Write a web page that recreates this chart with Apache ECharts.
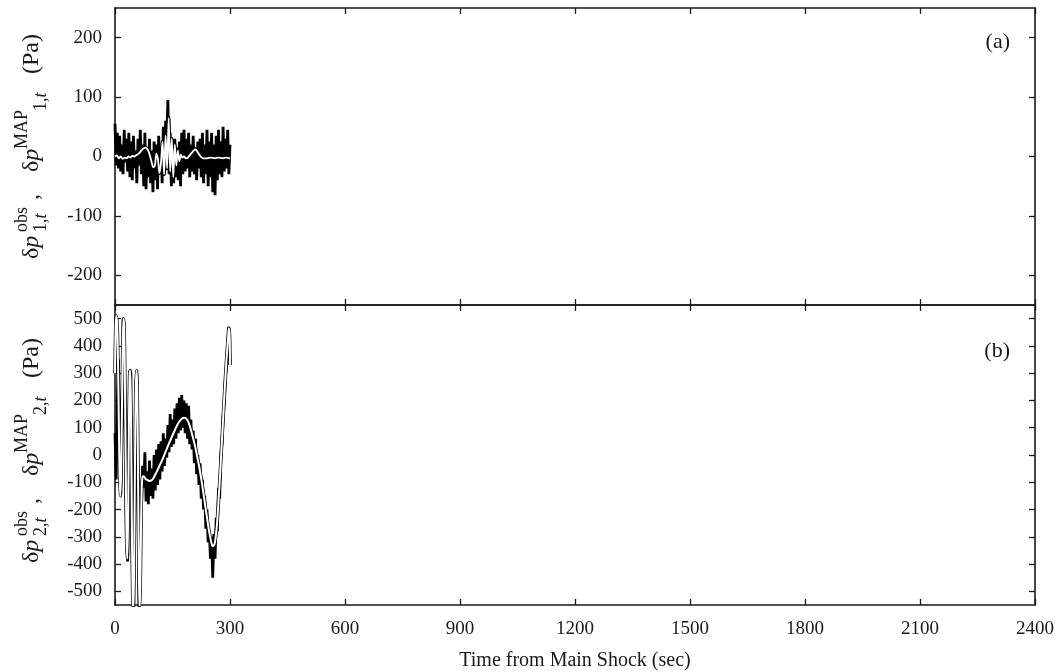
<!DOCTYPE html>
<html><head><meta charset="utf-8">
<script src="https://cdn.jsdelivr.net/npm/echarts@6/dist/echarts.min.js"></script>
<style>html,body{margin:0;padding:0;background:#fff}#c{width:1062px;height:672px}</style>
</head><body><div id="c"></div>
<script>
// ---------- data ----------
const xMin = 0, xMax = 2400, xStep = 300;
const yTicksA = [-200, -100, 0, 100, 200];
const yTicksB = [-500, -400, -300, -200, -100, 0, 100, 200, 300, 400, 500];

// panel (a) observed (sampled every 3 s from 0 to 300 s)
const obsA = [55,-15,40,-20,35,-25,20,-30,45,-10,
  30,-25,40,-35,25,-40,35,-20,10,-45,
  30,-15,45,-30,20,-50,40,-55,15,-35,
  30,-45,10,-60,25,-40,20,-55,35,-30,
  15,-45,50,-20,60,30,95,-30,40,-50,
  20,-45,30,-35,15,-40,25,-50,40,-30,
  45,-25,30,-20,40,-35,20,-25,35,-30,
  15,-40,25,-20,30,-35,40,-45,20,-30,
  45,-50,25,-35,40,-60,20,-65,35,-40,
  45,-30,25,-35,50,-25,30,-20,45,-30,20];
// panel (a) MAP estimate
const tMapA = [0,5,10,15,20,25,30,35,40,45,50,55,60,65,70,75,80,85,90,95,100,104,108,112,116,120,124,128,132,136,140,144,148,152,156,160,164,168,172,176,180,185,190,195,200,205,210,215,220,225,230,240,250,260,270,280,290,300];
const vMapA = [0,2,-3,0,-4,-2,-3,0,-2,1,0,2,4,7,11,14,15,12,4,-8,-18,-15,5,-5,-28,-10,25,-30,35,-20,65,-25,30,-35,20,-15,10,-8,3,-2,0,-3,-2,2,6,10,12,8,3,-1,-3,-3,-2,-3,-2,-3,-2,-3];

// panel (b) observed (sampled every 3 s from 0 to 300 s)
const obsB = [80,-90,200,350,-60,-120,120,420,350,100,-320,-390,60,310,120,-400,-560,-200,240,310,-60,-560,
  -150,-190,-40,-120,10,-170,-60,-180,-20,-150,-50,-160,0,-130,20,-110,40,-90,50,-60,80,-40,60,-10,
  110,10,150,30,130,40,170,60,190,80,210,90,220,100,200,80,190,60,180,40,130,20,90,-30,60,-70,0,-110,
  -30,-160,-90,-200,-150,-270,-200,-320,-280,-380,-300,-450,-290,-380,-230,-280,-120,-160,0,40,140,190,280,330,410,470,330];
// panel (b) MAP estimate
const tMapB = [0,2,4,6,8,10,12,14,16,18,20,22,24,26,28,30,32,34,36,38,40,42,44,46,48,50,52,54,56,58,60,62,64,66,68,70,72,
  75,80,85,90,95,100,105,110,115,120,125,130,135,140,145,150,155,160,165,170,175,180,185,190,195,200,205,210,215,220,225,230,235,240,245,250,255,260,265,270,275,280,285,290,295,297,299,300];
const vMapB = [300,480,510,470,330,120,-80,-150,-60,150,380,500,470,250,-50,-300,-380,-250,50,290,310,100,-250,-520,-570,-400,-50,230,310,250,-50,-400,-570,-480,-250,-110,-80,
  -78,-88,-92,-95,-93,-85,-72,-58,-43,-28,-12,5,22,40,56,72,88,103,116,127,134,137,135,125,107,82,55,25,-10,-45,-88,-133,-182,-230,-275,-312,-335,-325,-270,-170,-50,80,210,330,430,465,440,330];

// ---------- helpers ----------
const obsSpan = 300;
function evenPairs(vals) { const n = vals.length; return vals.map((v, i) => [i * obsSpan / (n - 1), v]); }
function zipPairs(ts, vs) { const n = Math.min(ts.length, vs.length); const o = []; for (let i = 0; i < n; i++) o.push([ts[i], vs[i]]); return o; }

const FONT = '"Liberation Serif", "Times New Roman", serif';
const INK = '#1a1a1a';
const L = 115, R = 27, TOP = 8, MID = 305, BOT = 605;

function xAx(grid, pos, labels) {
  return {
    type: 'value', gridIndex: grid, position: pos, min: xMin, max: xMax, interval: xStep,
    axisLine: { show: true, onZero: false, lineStyle: { color: INK, width: 1.6 } },
    axisTick: { show: true, inside: true, length: 6, lineStyle: { color: INK, width: 1.3 } },
    axisLabel: { show: labels, fontFamily: FONT, fontSize: 19, color: INK, margin: 15, formatter: v => String(v) },
    splitLine: { show: false },
    name: labels ? 'Time from Main Shock (sec)' : '', nameLocation: 'middle', nameGap: 46,
    nameTextStyle: { fontFamily: FONT, fontSize: 20, color: INK }
  };
}
function yAx(grid, pos, lim, ticks, labels) {
  return {
    type: 'value', gridIndex: grid, position: pos, min: -lim, max: lim,
    axisLine: { show: true, onZero: false, lineStyle: { color: INK, width: 1.6 } },
    axisTick: { show: true, inside: true, length: 6, customValues: ticks, lineStyle: { color: INK, width: 1.3 } },
    axisLabel: { show: labels, customValues: ticks, fontFamily: FONT, fontSize: 19, color: INK, margin: 13 },
    splitLine: { show: false }
  };
}

// rotated axis title built from pieces (local x runs up the page)
function yTitle(idx, cx, cy) {
  const big = 24, small = 18;
  const base = 0.22 * big, subDy = 0.36 * big + 0.22 * small, supDy = -0.45 * big + 0.22 * small;
  const kids = [];
  const put = (t, s, it, x, dy) => kids.push({ type: 'text', x: x, y: dy, style: { text: t, font: (it ? 'italic ' : '') + s + 'px ' + FONT, fill: INK, verticalAlign: 'bottom', textVerticalAlign: 'bottom' } });
  const c = document.createElement('canvas').getContext('2d');
  const w = (t, s, it) => { c.font = (it ? 'italic ' : '') + s + 'px ' + FONT; return c.measureText(t).width; };
  const sub = (x) => { put(String(idx), small, false, x, subDy); x += w(String(idx), small); put(',', small, false, x, subDy); x += w(',', small); put('t', small, true, x, subDy); };
  const dp = (x) => { put('δ', big, false, x, base); put('p', big, true, x + w('δ', big), base); };
  dp(-111);
  put('obs', small, false, -84, supDy); sub(-84);
  put(',', big, false, -52, base);
  dp(-24);
  put('MAP', small, false, -1, supDy);
  sub(37);
  put('(Pa)', big, false, 74, base);
  return { type: 'group', x: cx, y: cy, rotation: Math.PI / 2, children: kids };
}

const chart = echarts.init(document.getElementById('c'), null, { renderer: 'canvas' });
const option = {
  animation: false,
  backgroundColor: '#fff',
  grid: [
    { left: L, right: R, top: TOP, height: MID - TOP },
    { left: L, right: R, top: MID, height: BOT - MID }
  ],
  xAxis: [xAx(0, 'top', false), xAx(0, 'bottom', false), xAx(1, 'top', false), xAx(1, 'bottom', true)],
  yAxis: [yAx(0, 'left', 250, yTicksA, true), yAx(0, 'right', 250, yTicksA, false),
          yAx(1, 'left', 550, yTicksB, true), yAx(1, 'right', 550, yTicksB, false)],
  series: [
    { type: 'line', xAxisIndex: 1, yAxisIndex: 0, data: evenPairs(obsA), showSymbol: false, lineStyle: { color: '#000', width: 2.8 }, z: 2 },
    { type: 'line', xAxisIndex: 1, yAxisIndex: 0, data: zipPairs(tMapA, vMapA), showSymbol: false, smooth: 0.3, lineStyle: { color: '#000', width: 3.6 }, z: 3 },
    { type: 'line', xAxisIndex: 1, yAxisIndex: 0, data: zipPairs(tMapA, vMapA), showSymbol: false, smooth: 0.3, lineStyle: { color: '#fff', width: 1.8 }, z: 4 },
    { type: 'line', xAxisIndex: 3, yAxisIndex: 2, data: evenPairs(obsB), showSymbol: false, lineStyle: { color: '#000', width: 2.8 }, z: 2 },
    { type: 'line', xAxisIndex: 3, yAxisIndex: 2, data: zipPairs(tMapB, vMapB), showSymbol: false, smooth: 0.3, lineStyle: { color: '#000', width: 3.4 }, z: 3 },
    { type: 'line', xAxisIndex: 3, yAxisIndex: 2, data: zipPairs(tMapB, vMapB), showSymbol: false, smooth: 0.3, lineStyle: { color: '#fff', width: 2 }, z: 4 }
  ],
  graphic: [
    yTitle(1, 38, 148),
    yTitle(2, 38, 452),
    { type: 'text', right: 52, top: 31, style: { text: '(a)', font: '22px ' + FONT, fill: INK } },
    { type: 'text', right: 52, top: 340, style: { text: '(b)', font: '22px ' + FONT, fill: INK } }
  ]
};
chart.setOption(option);
</script>
</body></html>
